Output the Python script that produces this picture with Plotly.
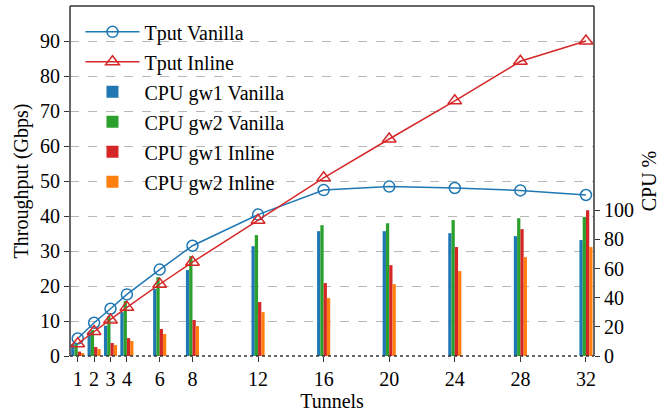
import plotly.graph_objects as go

tunnels = [1, 2, 3, 4, 6, 8, 12, 16, 20, 24, 28, 32]
tput_vanilla = [5.0, 9.5, 13.5, 17.6, 24.7, 31.5, 40.4, 47.4, 48.4, 48.0, 47.3, 46.0]
tput_inline = [3.5, 7.0, 10.3, 13.9, 20.5, 26.8, 38.8, 50.9, 62.0, 72.9, 84.2, 90.0]
cpu_gw1_vanilla = [8.2, 16.6, 20.8, 30.1, 45.9, 58.9, 75.3, 85.6, 85.6, 84.2, 82.2, 79.5]
cpu_gw2_vanilla = [9.0, 17.8, 27.4, 37.7, 54.1, 68.5, 82.9, 89.7, 91.1, 93.2, 94.5, 95.4]
cpu_gw1_inline = [3.0, 6.2, 8.9, 12.3, 18.5, 24.7, 37.0, 50.0, 62.3, 74.7, 87.0, 100.0]
cpu_gw2_inline = [2.0, 4.8, 7.5, 10.3, 15.1, 20.5, 30.1, 39.7, 49.3, 58.2, 67.8, 74.7]

BLUE = "#1f77b4"
GREEN = "#2ca02c"
RED = "#d62728"
ORANGE = "#ff7f0e"
FONT = "'Liberation Serif', 'Times New Roman', serif"
FS = 20

fig = go.Figure()

fig.add_trace(go.Scatter(
    x=tunnels, y=tput_vanilla, name="Tput Vanilla", yaxis="y2",
    mode="lines+markers", legendgroup="a",
    line=dict(color=BLUE, width=1.5),
    marker=dict(symbol="circle-open", size=11, color=BLUE, line=dict(width=1.5)),
))
fig.add_trace(go.Scatter(
    x=tunnels, y=tput_inline, name="Tput Inline", yaxis="y2",
    mode="lines+markers", legendgroup="b",
    line=dict(color=RED, width=1.5),
    marker=dict(symbol="triangle-up-open", size=12, color=RED, line=dict(width=1.5)),
))

bars = [
    ("CPU gw1 Vanilla", cpu_gw1_vanilla, BLUE, -0.4, "c"),
    ("CPU gw2 Vanilla", cpu_gw2_vanilla, GREEN, -0.2, "d"),
    ("CPU gw1 Inline", cpu_gw1_inline, RED, 0.0, "e"),
    ("CPU gw2 Inline", cpu_gw2_inline, ORANGE, 0.2, "f"),
]
for name, vals, col, off, grp in bars:
    fig.add_trace(go.Bar(
        x=tunnels, y=vals, name=name, yaxis="y", legendgroup=grp,
        width=0.2, offset=off, marker=dict(color=col, line=dict(width=0)),
    ))

fig.update_layout(
    width=668, height=414,
    margin=dict(l=70, r=74, t=6, b=58, autoexpand=False),
    paper_bgcolor="white", plot_bgcolor="white",
    font=dict(family=FONT, size=FS, color="black"),
    barmode="overlay",
    showlegend=True,
    legend=dict(
        x=0.02, y=0.982, xanchor="left", yanchor="top",
        bgcolor="rgba(0,0,0,0)", borderwidth=0,
        font=dict(family=FONT, size=FS),
        traceorder="grouped", tracegroupgap=1, itemwidth=54,
    ),
    xaxis=dict(
        range=[0.53, 32.49], tickmode="array", tickvals=tunnels,
        ticktext=[str(t) for t in tunnels],
        ticks="outside", ticklen=5, tickcolor="#333", showgrid=False,
        showline=False, zeroline=False, automargin=False,
        tickfont=dict(family=FONT, size=FS),
        title=dict(text="Tunnels", standoff=2, font=dict(family=FONT, size=FS)),
    ),
    yaxis=dict(
        side="right", range=[0, 240], tickmode="array",
        tickvals=[0, 20, 40, 60, 80, 100],
        ticks="outside", ticklen=5, tickcolor="#333", showgrid=False,
        zeroline=False, showline=False, automargin=False,
        tickfont=dict(family=FONT, size=FS),
        title=dict(text="CPU %", standoff=8, font=dict(family=FONT, size=FS)),
    ),
    yaxis2=dict(
        side="left", overlaying="y", range=[0, 100], tickmode="array",
        tickvals=[0, 10, 20, 30, 40, 50, 60, 70, 80, 90],
        ticks="outside", ticklen=5, tickcolor="#333",
        showgrid=True, gridcolor="#b8b8b8", griddash="dash", gridwidth=1,
        zeroline=False, showline=False, automargin=False,
        tickfont=dict(family=FONT, size=FS),
        title=dict(text="Throughput (Gbps)", standoff=6, font=dict(family=FONT, size=FS)),
    ),
    shapes=[
        dict(type="line", xref="paper", yref="paper", x0=0, x1=0, y0=0, y1=1,
             line=dict(color="#333", width=1.5)),
        dict(type="line", xref="paper", yref="paper", x0=1, x1=1, y0=0, y1=1,
             line=dict(color="#333", width=1.5)),
        dict(type="line", xref="paper", yref="paper", x0=0, x1=1, y0=1, y1=1,
             line=dict(color="#333", width=1.5)),
        dict(type="line", xref="paper", yref="paper", x0=0, x1=1, y0=0, y1=0,
             line=dict(color="#333", width=1.5, dash="dot")),
    ],
)

fig.write_html("out.html", config={"displayModeBar": False},
               post_script="document.body.style.margin='0';")
